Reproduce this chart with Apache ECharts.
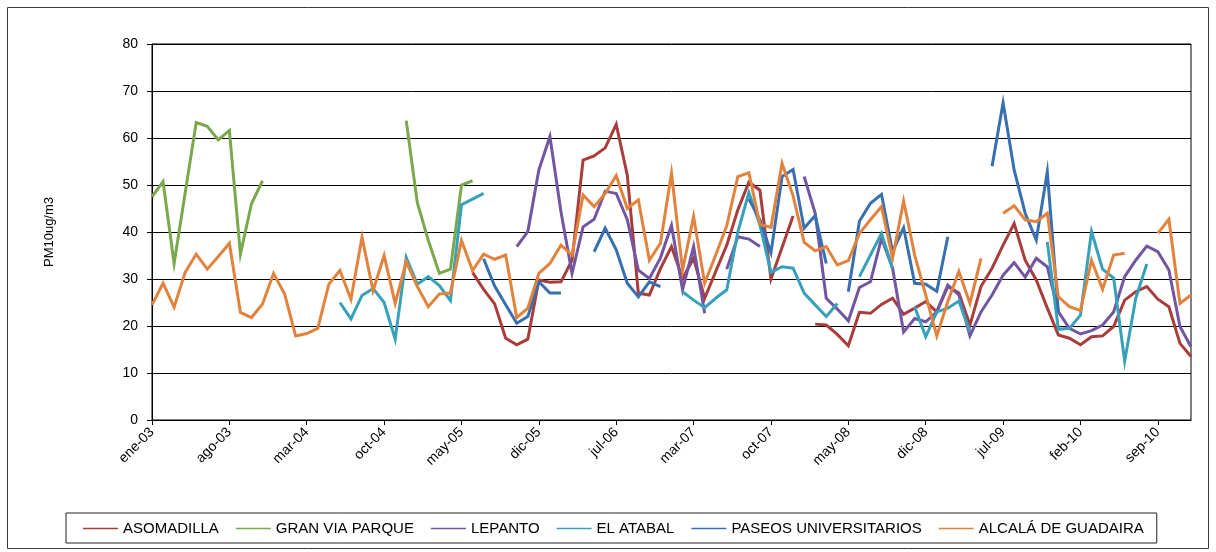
<!DOCTYPE html>
<html>
<head>
<meta charset="utf-8">
<script src="https://cdn.jsdelivr.net/npm/echarts@6/dist/echarts.min.js"></script>
<style>
html,body{margin:0;padding:0;background:#fff;}
#chart{width:1216px;height:552px;}
</style>
</head>
<body>
<div id="chart"></div>
<script>
var categories = [
 "ene-03","feb-03","mar-03","abr-03","may-03","jun-03","jul-03","ago-03","sep-03","oct-03","nov-03","dic-03",
 "ene-04","feb-04","mar-04","abr-04","may-04","jun-04","jul-04","ago-04","sep-04","oct-04","nov-04","dic-04",
 "ene-05","feb-05","mar-05","abr-05","may-05","jun-05","jul-05","ago-05","sep-05","oct-05","nov-05","dic-05",
 "ene-06","feb-06","mar-06","abr-06","may-06","jun-06","jul-06","ago-06","sep-06","oct-06","nov-06",
 "ene-07","feb-07","mar-07","abr-07","may-07","jun-07","jul-07","ago-07","sep-07","oct-07","nov-07","dic-07",
 "ene-08","feb-08","mar-08","abr-08","may-08","jun-08","jul-08","ago-08","sep-08","oct-08","nov-08","dic-08",
 "ene-09","feb-09","mar-09","abr-09","may-09","jun-09","jul-09","ago-09","sep-09","oct-09","nov-09","dic-09",
 "ene-10","feb-10","mar-10","abr-10","may-10","jun-10","jul-10","ago-10","sep-10","oct-10","nov-10","dic-10"
];

var yTicks = [0, 10, 20, 30, 40, 50, 60, 70, 80];

var _ = null;

var asomadilla = [
 _,_,_,_,_,_,_,_,_,_,
 _,_,_,_,_,_,_,_,_,_,
 _,_,_,_,_,_,_,_,_,31.4,
 27.8,24.7,17.4,16.0,17.2,29.8,29.3,29.4,34.0,55.3,
 56.2,57.9,62.9,52.1,27.0,26.6,32.2,36.9,30.1,34.4,
 25.9,31.6,37.2,44.7,50.6,48.9,30.0,36.7,43.4,_,
 20.4,20.2,18.2,15.8,22.9,22.7,24.6,25.9,22.5,23.8,
 25.2,23.0,28.4,27.0,20.2,28.4,32.3,37.2,41.8,34.0,
 29.8,23.8,18.1,17.4,16.0,17.7,17.9,19.9,25.5,27.3,
 28.4,25.7,24.1,16.3,13.5
];

var granViaParque = [
 47.5,50.7,33.3,48.3,63.3,62.5,59.6,61.6,35.3,46.0,
 50.9,_,_,_,_,_,_,_,_,_,
 _,_,_,63.7,46.3,38.2,31.2,32.1,50.0,50.9,
 _,_,_,_,_,_,_,_,_,_,
 _,_,_,_,_,_,_,_,_,_,
 _,_,_,_,_,_,_,_,_,_,
 _,_,_,_,_,_,_,_,_,_,
 _,_,_,_,_,_,_,_,_,_,
 _,_,_,_,_,_,_,_,_,_,
 _,_,_,_,_
];

var lepanto = [
 _,_,_,_,_,_,_,_,_,_,
 _,_,_,_,_,_,_,_,_,_,
 _,_,_,_,_,_,_,_,_,_,
 _,_,_,36.9,40.1,53.2,60.3,44.3,31.2,41.1,
 42.7,48.7,48.2,42.6,31.9,30.1,34.5,41.4,27.7,36.9,
 22.7,_,32.1,39.0,38.5,36.9,_,_,_,51.8,
 44.0,25.9,23.6,21.1,28.2,29.4,38.7,32.3,18.7,21.6,
 20.9,23.0,28.7,26.6,17.9,23.0,26.6,30.8,33.5,30.4,
 34.4,32.6,23.0,19.5,18.3,19.0,20.2,23.0,30.5,34.0,
 37.0,35.8,31.9,19.9,15.6
];

var elAtabal = [
 _,_,_,_,_,_,_,_,_,_,
 _,_,_,_,_,_,_,25.0,21.5,26.5,
 28.0,25.0,17.2,34.6,28.9,30.5,28.6,25.4,45.8,47.0,
 48.2,_,_,_,_,_,_,_,_,_,
 _,_,_,_,_,_,_,_,27.3,25.5,
 23.9,25.9,27.7,40.0,48.4,41.5,31.4,32.6,32.3,27.0,
 24.5,22.0,24.8,_,30.5,35.1,39.7,32.3,_,24.1,
 17.7,23.0,23.8,25.3,18.8,_,_,_,_,_,
 _,37.9,19.3,19.5,22.3,40.1,32.1,30.2,12.5,25.9,
 33.2,_,_,_,_
];

var paseosUniversitarios = [
 _,_,_,_,_,_,_,_,_,_,
 _,_,_,_,_,_,_,_,_,_,
 _,_,_,_,_,_,_,_,_,_,
 34.3,28.5,24.5,20.6,22.0,29.4,27.0,27.0,_,_,
 35.8,40.8,36.2,29.1,26.2,29.4,28.4,_,_,_,
 _,_,_,_,47.0,42.6,35.6,51.8,53.3,40.8,
 43.5,33.3,_,27.3,42.3,46.1,48.0,35.8,40.9,29.1,
 28.9,27.4,39.0,_,_,_,54.0,67.5,53.2,44.0,
 38.3,52.8,23.0,_,_,_,_,_,_,_,
 _,_,_,_,_
];

var alcalaDeGuadaira = [
 24.5,29.1,24.0,31.4,35.3,32.1,34.8,37.6,22.9,21.8,
 24.7,31.2,26.8,17.9,18.4,19.5,28.9,31.8,25.7,38.9,
 27.5,35.0,24.8,33.7,28.4,24.1,26.8,27.0,38.2,31.8,
 35.3,34.2,35.1,21.8,23.8,31.2,33.3,37.2,35.1,47.9,
 45.4,48.2,52.0,45.0,46.8,34.0,37.6,52.5,31.9,43.3,
 29.1,35.1,41.3,51.8,52.6,41.6,41.0,54.6,47.7,37.8,
 36.0,36.9,33.0,33.9,39.7,42.6,45.4,34.4,46.6,35.1,
 26.6,17.9,25.2,31.6,24.8,34.4,_,44.0,45.6,42.6,
 42.2,44.0,26.2,24.1,23.3,34.0,27.8,35.1,35.5,_,
 _,39.7,42.7,24.8,26.6
];

var seriesNames = ["ASOMADILLA","GRAN VIA PARQUE","LEPANTO","EL ATABAL","PASEOS UNIVERSITARIOS","ALCALÁ DE GUADAIRA"];
var seriesData = [asomadilla, granViaParque, lepanto, elAtabal, paseosUniversitarios, alcalaDeGuadaira];
var seriesColors = ["#A93D3C","#79A84D","#7256A1","#38A1BA","#386FB0","#E2833D"];

var FONT = "'Liberation Sans', Arial, sans-serif";

var chart = echarts.init(document.getElementById('chart'), null, {renderer: 'canvas'});

var series = seriesNames.map(function (n, k) {
  return {
    name: n,
    type: 'line',
    data: seriesData[k],
    symbol: 'none',
    connectNulls: false,
    smooth: false,
    lineStyle: {width: 3, color: seriesColors[k], join: 'miter'},
    itemStyle: {color: seriesColors[k]},
    emphasis: {disabled: true},
    animation: false,
    z: 2 + k
  };
});

chart.setOption({
  animation: false,
  backgroundColor: '#fff',
  graphic: [{
    type: 'rect',
    shape: {x: 7.5, y: 7.5, width: 1201, height: 541},
    style: {fill: 'none', stroke: '#3a3a3a', lineWidth: 1},
    silent: true, z: -1
  }],
  grid: {
    left: 152, right: 25, top: 44, bottom: 132,
    show: true, borderColor: '#000', borderWidth: 1, backgroundColor: 'transparent'
  },
  legend: {
    data: seriesNames,
    left: 66, top: 513,
    orient: 'horizontal',
    icon: 'rect',
    itemWidth: 35, itemHeight: 1.5,
    itemGap: 17,
    padding: [8, 13, 7, 17],
    borderColor: '#222', borderWidth: 1,
    textStyle: {fontFamily: FONT, fontSize: 15, color: '#000'}
  },
  xAxis: {
    type: 'category',
    data: categories,
    boundaryGap: false,
    axisLine: {lineStyle: {color: '#000', width: 1}},
    axisTick: {show: true, interval: 6, length: 5, lineStyle: {color: '#000'}},
    axisLabel: {
      interval: 6, rotate: 45, margin: 10,
      fontFamily: FONT, fontSize: 14, color: '#000'
    },
    splitLine: {show: false}
  },
  yAxis: {
    type: 'value',
    min: yTicks[0], max: yTicks[yTicks.length - 1], interval: 10,
    name: 'PM10ug/m3',
    nameLocation: 'middle',
    nameGap: 96,
    nameRotate: 90,
    nameTextStyle: {fontFamily: FONT, fontSize: 13, color: '#000'},
    axisLine: {show: true, lineStyle: {color: '#000', width: 1}},
    axisTick: {show: true, length: 5, lineStyle: {color: '#000'}},
    axisLabel: {margin: 14, fontFamily: FONT, fontSize: 14, color: '#000'},
    splitLine: {show: true, lineStyle: {color: '#000', width: 1}}
  },
  series: series
});
</script>
</body>
</html>
